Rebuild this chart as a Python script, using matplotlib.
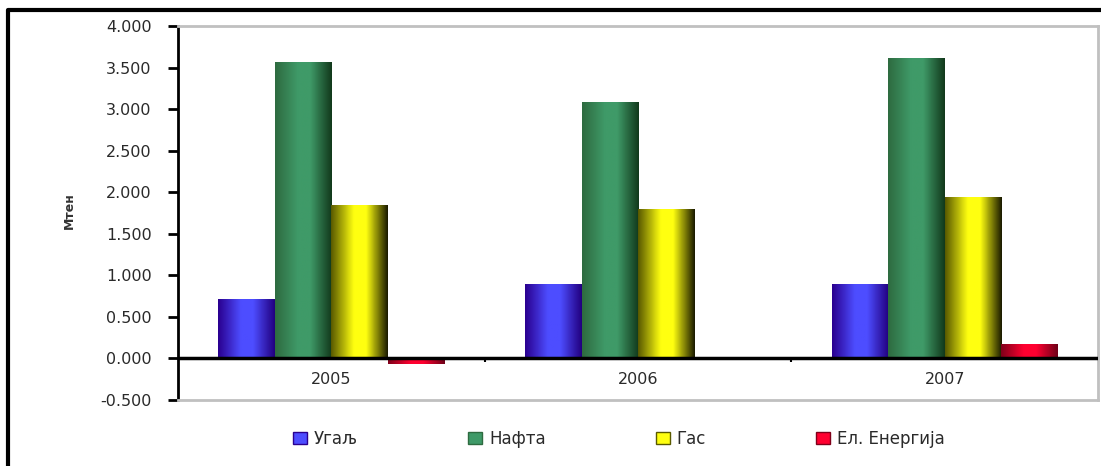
import numpy as np
import matplotlib
matplotlib.use("Agg")
import matplotlib.pyplot as plt
from matplotlib.colors import LinearSegmentedColormap
from matplotlib.patches import Patch
from matplotlib.lines import Line2D

plt.rcParams["font.family"] = ["DejaVu Sans"]

# Consumption by energy source, per year
years = ["2005", "2006", "2007"]
series = ["Угаљ", "Нафта", "Гас", "Ел. Енергија"]
coal = [0.70, 0.88, 0.88]
oil = [3.55, 3.07, 3.60]
gas = [1.84, 1.79, 1.93]
electricity = [-0.07, 0.0, 0.16]
values = [coal, oil, gas, electricity]

yticks = [-0.5, 0.0, 0.5, 1.0, 1.5, 2.0, 2.5, 3.0, 3.5, 4.0]
ylabel = "Мтен"

# cylinder shading: dark edge, highlight, dark edge
shades = [
    ("#2a0090", "#4d4dff", "#220080"),
    ("#2e6b40", "#3f9a68", "#123a1c"),
    ("#5a5a00", "#ffff10", "#1c1c00"),
    ("#80001a", "#ff0030", "#700018"),
]

fig = plt.figure(figsize=(11.01, 4.66), dpi=100)
ax = fig.add_axes([178 / 1101, 1 - 400 / 466, (1098 - 178) / 1101, (400 - 26) / 466])

x = np.arange(len(years)) + 0.5
width = 0.184
offsets = np.array([-1.5, -0.5, 0.5, 1.5]) * width

for vals, off, (c0, c1, c2) in zip(values, offsets, shades):
    cmap = LinearSegmentedColormap.from_list(
        "cyl", [(0.0, c0), (0.4, c1), (0.62, c1), (1.0, c2)]
    )
    bars = ax.bar(x + off, vals, width, color=c1, zorder=2)
    grad = np.linspace(0, 1, 64).reshape(1, -1)
    for b in bars:
        if b.get_height() == 0:
            continue
        x0, x1 = b.get_x(), b.get_x() + b.get_width()
        y0, y1 = b.get_y(), b.get_y() + b.get_height()
        ax.imshow(grad, extent=[x0, x1, min(y0, y1), max(y0, y1)],
                  aspect="auto", cmap=cmap, zorder=3, interpolation="bilinear")

ax.set_xlim(0, len(years))
ax.set_ylim(-0.5, 4.0)

# zero line with category separators
ax.axhline(0, color="black", lw=2.5, zorder=4)
ax.vlines([1, 2], -0.045, 0, color="black", lw=1.5, zorder=4)
for xi, yr in zip(x, years):
    ax.text(xi, -0.25, yr, ha="center", va="center", fontsize=11.5, color="#2a2a2a")

ax.set_xticks([])
ax.set_yticks(yticks)
ax.set_yticklabels([f"{t:.3f}" for t in yticks], fontsize=11.5, color="#2a2a2a")
ax.tick_params(axis="y", direction="out", length=7, width=2, color="black", pad=12)

ax.spines["left"].set_color("black")
ax.spines["left"].set_linewidth(2)
for s in ["top", "right", "bottom"]:
    ax.spines[s].set_color("#c0c0c0")
    ax.spines[s].set_linewidth(2)

fig.text(69 / 1101, 1 - 211 / 466, ylabel, rotation=90, ha="center", va="center",
         fontsize=9, fontweight="bold", color="#333333")

handles = [Patch(facecolor=c1, edgecolor=c0) for (c0, c1, c2) in shades]
fig.legend(handles, series, loc="center", bbox_to_anchor=(0.562, 1 - 439 / 466),
           ncol=4, frameon=False, fontsize=12, handlelength=0.84, handleheight=0.72,
           handletextpad=0.42, columnspacing=6.6, labelcolor="#2a2a2a")

# outer frame (left and top edges)
fig.add_artist(Line2D([8 / 1101, 8 / 1101, 1.0], [0.0, 1 - 10 / 466, 1 - 10 / 466],
                      transform=fig.transFigure, color="black", lw=3))

fig.savefig("out.png", dpi=100)
